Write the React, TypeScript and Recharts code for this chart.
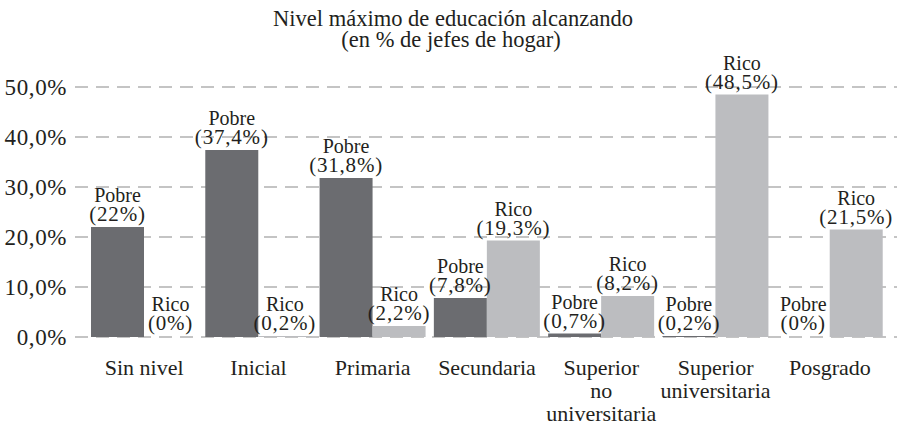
import { Bar, BarChart, CartesianGrid, LabelList, XAxis, YAxis } from "recharts";

const categories = [
  "Sin nivel",
  "Inicial",
  "Primaria",
  "Secundaria",
  "Superior\nno\nuniversitaria",
  "Superior\nuniversitaria",
  "Posgrado",
];
const pobre = [22, 37.4, 31.8, 7.8, 0.7, 0.2, 0];
const rico = [0, 0.2, 2.2, 19.3, 8.2, 48.5, 21.5];
const yTicks = [0, 10, 20, 30, 40, 50];

const data = categories.map((name, i) => ({ name, pobre: pobre[i], rico: rico[i] }));

const INK = "#231f20";
const serif = { fontFamily: "Liberation Serif" };

const pct = (v: number) => (Number.isInteger(v) ? `${v}%` : `${String(v).replace(".", ",")}%`);

function CategoryTick({ x, y, payload }: any) {
  const lines = String(payload.value).split("\n");
  return (
    <text x={x} y={y + 30} textAnchor="middle" fill={INK} fontSize={22} style={serif}>
      {lines.map((l, i) => (
        <tspan key={i} x={x} dy={i === 0 ? 0 : 23}>
          {l}
        </tspan>
      ))}
    </text>
  );
}

function ValueTick({ x, y, payload }: any) {
  return (
    <text x={x} y={y} dy="0.34em" textAnchor="end" fill={INK} fontSize={23} style={{ ...serif, letterSpacing: 0.6 }}>
      {`${Number(payload.value).toFixed(1).replace(".", ",")}%`}
    </text>
  );
}

const barLabel = (title: string) => (props: any) => {
  const { x, y, width, height, value } = props;
  const cx = Number(x) + Number(width) / 2;
  const top = Number(y) + Math.min(0, Number(height));
  return (
    <g>
      <text x={cx} y={top - 25} textAnchor="middle" fill={INK} fontSize={20} style={serif}>
        {title}
      </text>
      <text x={cx} y={top - 6} textAnchor="middle" fill={INK} fontSize={21} style={{ ...serif, letterSpacing: 0.8 }}>
        ({pct(value)})
      </text>
    </g>
  );
};

const barShape = (key: "pobre" | "rico", fill: string) => (props: any) =>
  props.payload[key] > 0 ? (
    <rect x={props.x} y={props.y} width={props.width} height={props.height} fill={fill} />
  ) : (
    <g />
  );

export default function App() {
  return (
    <div style={{ position: "absolute", left: 0, top: 0, width: 897, height: 429, background: "#fff" }}>
      <svg width={897} height={60} style={{ position: "absolute", left: 0, top: 0 }}>
        <text x={453} y={26} textAnchor="middle" fill={INK} fontSize={22.5} style={serif}>
          Nivel máximo de educación alcanzando
        </text>
        <text x={451} y={47} textAnchor="middle" fill={INK} fontSize={22.5} style={serif}>
          (en % de jefes de hogar)
        </text>
      </svg>
      <BarChart
        width={897}
        height={429}
        data={data}
        margin={{ top: 87, right: 0, bottom: 0, left: 0 }}
        barCategoryGap={4}
        barGap={0}
      >
        <CartesianGrid vertical={false} stroke="#c4c4c4" strokeWidth={2} strokeDasharray="13 8" />
        <XAxis
          dataKey="name"
          axisLine={false}
          tickLine={false}
          height={92}
          padding={{ left: 12, right: 10 }}
          interval={0}
          tick={<CategoryTick />}
        />
        <YAxis
          width={75}
          domain={[0, 50]}
          ticks={yTicks}
          axisLine={false}
          tickLine={false}
          tick={<ValueTick />}
        />
        <Bar dataKey="pobre" fill="#6b6c70" minPointSize={1} shape={barShape("pobre", "#6b6c70")} isAnimationActive={false}>
          <LabelList dataKey="pobre" content={barLabel("Pobre")} />
        </Bar>
        <Bar dataKey="rico" fill="#bcbdc0" minPointSize={1} shape={barShape("rico", "#bcbdc0")} isAnimationActive={false}>
          <LabelList dataKey="rico" content={barLabel("Rico")} />
        </Bar>
      </BarChart>
    </div>
  );
}
